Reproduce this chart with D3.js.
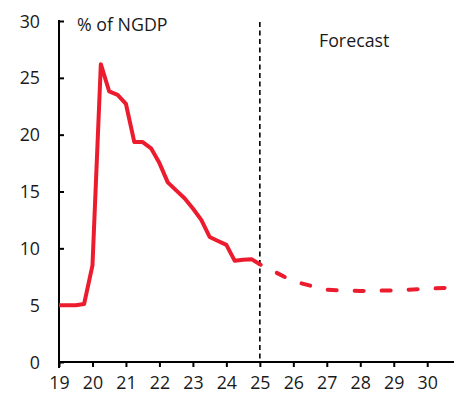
<!DOCTYPE html>
<html>
<head>
<meta charset="utf-8">
<script src="https://cdn.jsdelivr.net/npm/d3@7"></script>
<style>
  html, body { margin: 0; padding: 0; background: #fff; }
  svg text { font-family: "Open Sans", sans-serif; fill: #1a1a1a; }
</style>
</head>
<body>
<svg id="chart" width="461" height="398"></svg>
<script>
// Quarterly outturns (fractional years, 19 = 2019) and annual forecast path
const histPeriods = [19, 19.25, 19.5, 19.75, 20, 20.25, 20.5, 20.75, 21, 21.25, 21.5, 21.75,
                     22, 22.25, 22.5, 22.75, 23, 23.25, 23.5, 23.75, 24, 24.25, 24.5, 24.75, 25];
const histValues  = [5.0, 5.0, 5.0, 5.1, 8.5, 26.2, 23.8, 23.5, 22.7, 19.35, 19.35, 18.8,
                     17.5, 15.8, 15.1, 14.4, 13.5, 12.5, 11.0, 10.65, 10.3, 8.9, 9.0, 9.05, 8.6];
const forecastPeriods = [25, 26, 27, 28, 29, 30, 30.8];
const forecastValues  = [8.6, 7.1, 6.35, 6.25, 6.3, 6.45, 6.55];
const xTickLabels = [19, 20, 21, 22, 23, 24, 25, 26, 27, 28, 29, 30];
const yTickLabels = [0, 5, 10, 15, 20, 25, 30];
const forecastStart = 25;

const svg = d3.select("#chart");
const plotLeft = 59, plotRight = 454, plotTop = 21, plotBottom = 362;
const fontSize = "17.8px";

const x = d3.scaleLinear().domain([19, 30.8]).range([plotLeft, plotRight]);
const y = d3.scaleLinear().domain([0, 30]).range([plotBottom, plotTop]);

// y axis: ticks point inward, labels on the left
const yAxis = svg.append("g")
  .attr("transform", `translate(${plotLeft},0)`)
  .call(d3.axisRight(y).tickValues(yTickLabels).tickSize(5).tickFormat(d3.format("d")));
yAxis.select(".domain").remove();
yAxis.selectAll(".tick line").attr("stroke", "#000").attr("stroke-width", 2);
yAxis.selectAll(".tick text")
  .attr("x", -19).attr("text-anchor", "end").attr("dy", "0.34em")
  .style("font-size", fontSize);
svg.append("line")
  .attr("x1", plotLeft).attr("x2", plotLeft).attr("y1", plotTop - 1).attr("y2", plotBottom + 6)
  .attr("stroke", "#000").attr("stroke-width", 2);

// x axis: ticks point downward
const xAxis = svg.append("g")
  .attr("transform", `translate(0,${plotBottom})`)
  .call(d3.axisBottom(x).tickValues(xTickLabels).tickSize(5).tickFormat(d3.format("d")));
xAxis.select(".domain").remove();
xAxis.selectAll(".tick line").attr("stroke", "#000").attr("stroke-width", 2);
xAxis.selectAll(".tick text")
  .attr("y", 14).attr("dy", "0.71em")
  .style("font-size", fontSize);
svg.append("line")
  .attr("x1", plotLeft - 1).attr("x2", plotRight).attr("y1", plotBottom).attr("y2", plotBottom)
  .attr("stroke", "#000").attr("stroke-width", 2);

// forecast divider
svg.append("line")
  .attr("x1", x(forecastStart)).attr("x2", x(forecastStart))
  .attr("y1", plotTop + 1).attr("y2", plotBottom)
  .attr("stroke", "#000").attr("stroke-width", 1.6)
  .attr("stroke-dasharray", "5,3.5");

const line = d3.line().x(d => x(d[0])).y(d => y(d[1]));
const red = "#ec1c2e";

svg.append("path")
  .datum(histPeriods.map((p, i) => [p, histValues[i]]))
  .attr("d", line)
  .attr("fill", "none").attr("stroke", red).attr("stroke-width", 4)
  .attr("stroke-linejoin", "round");

svg.append("path")
  .datum(forecastPeriods.map((p, i) => [p, forecastValues[i]]))
  .attr("d", line)
  .attr("fill", "none").attr("stroke", red).attr("stroke-width", 4)
  .attr("stroke-linecap", "round")
  .attr("stroke-dasharray", "9,18")
  .attr("stroke-dashoffset", 8);

svg.append("text").attr("x", 77).attr("y", 30.5)
  .style("font-size", fontSize).text("% of NGDP");
svg.append("text").attr("x", 319).attr("y", 47)
  .style("font-size", fontSize).text("Forecast");
</script>
</body>
</html>
